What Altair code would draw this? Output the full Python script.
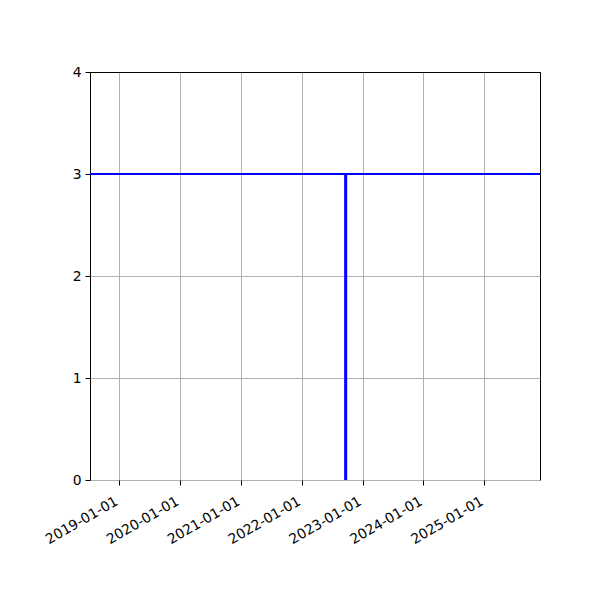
import altair as alt
import pandas as pd

# data
hline_value = [3]
event_dates = ["2022-09-22"]
event_values = [3]
tick_dates = ["2019-01-01", "2020-01-01", "2021-01-01", "2022-01-01",
              "2023-01-01", "2024-01-01", "2025-01-01"]
x_domain = ["2018-07-11", "2025-12-01"]
y_ticks = [0, 1, 2, 3, 4]

hdf = pd.DataFrame({"y": hline_value})
vdf = pd.DataFrame({"date": pd.to_datetime(event_dates), "value": event_values, "base": [0]})

tick_vals = [alt.DateTime(year=int(d[:4]), month=1, date=1, utc=True) for d in tick_dates]
dom = [alt.DateTime(year=int(d[:4]), month=int(d[5:7]), date=int(d[8:10]), utc=True) for d in x_domain]

xscale = alt.Scale(type="utc", domain=dom, nice=False)
yscale = alt.Scale(domain=[0, 4], nice=False, zero=False)

xaxis = alt.Axis(values=tick_vals, labelExpr="utcFormat(datum.value, '%Y-%m-%d')", title=None,
                 labelAngle=-30, labelAlign="right", labelBaseline="top",
                 labelFont="DejaVu Sans", labelFontSize=13.9, labelColor="black",
                 tickColor="black", tickSize=5, tickWidth=1, domain=False,
                 grid=True, gridColor="#b0b0b0", gridWidth=1, labelPadding=9,
                 labelOffset=-6, labelOverlap=False, labelFlush=False)
yaxis = alt.Axis(values=y_ticks, format="d", title=None,
                 labelFont="DejaVu Sans", labelFontSize=13.9, labelColor="black",
                 tickColor="black", tickSize=5, tickWidth=1, domain=False,
                 grid=True,
                 gridColor={"condition": {"test": "datum.value === 4", "value": "black"},
                            "value": "#b0b0b0"},
                 gridWidth=1, labelPadding=4)

vline = alt.Chart(vdf).mark_rule(color="blue", strokeWidth=3).encode(
    x=alt.X("date:T", scale=xscale, axis=xaxis),
    y=alt.Y("base:Q", scale=yscale, axis=yaxis),
    y2="value:Q",
)
hline = alt.Chart(hdf).mark_rule(color="blue", strokeWidth=2).encode(
    y=alt.Y("y:Q", scale=yscale),
)

chart = alt.layer(vline, hline).properties(
    width=450, height=408,
    padding={"left": 82, "top": 64, "right": 52, "bottom": 112},
    autosize=alt.AutoSizeParams(type="none"),
    background="white",
).configure_view(stroke="black", strokeWidth=1)

chart.save("out.html", embed_options={"renderer": "svg", "actions": False})
